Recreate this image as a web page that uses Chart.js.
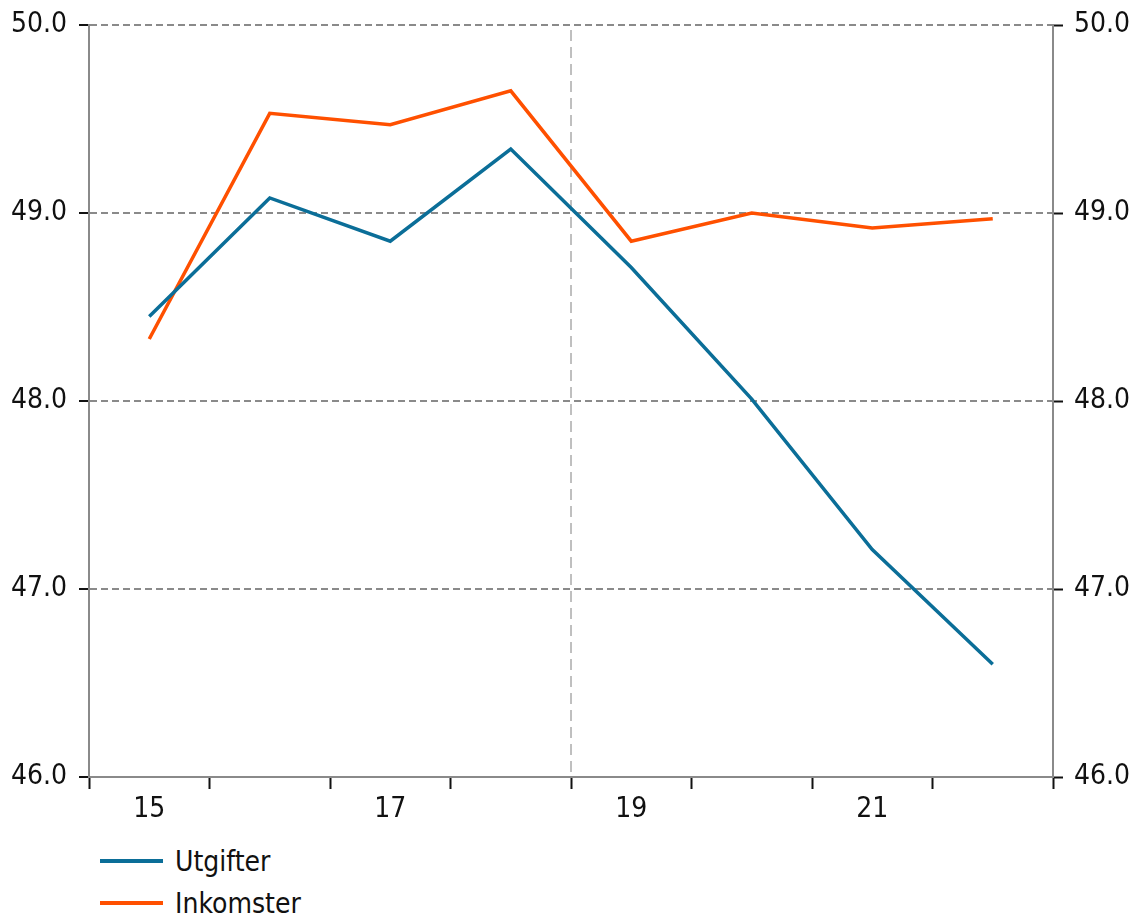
<!DOCTYPE html>
<html>
<head>
<meta charset="utf-8">
<script src="https://cdn.jsdelivr.net/npm/chart.js@4/dist/chart.umd.min.js"></script>
<style>
  body { margin: 0; background: #fff; }
  #wrap { position: relative; width: 1129px; height: 920px; }
  #chart { position: absolute; left: 0; top: 0; }
  #legend { position: absolute; left: 100px; top: 840px; font-family: 'Liberation Sans Narrow', 'DejaVu Sans Condensed', sans-serif; font-size: 28px; color: #111; }
  #legend div { display: flex; align-items: center; height: 42px; }
  #legend span.line { display: inline-block; width: 63px; height: 4px; margin-right: 12px; }
</style>
</head>
<body>
<div id="wrap">
  <canvas id="chart" width="1129" height="840"></canvas>
  <div id="legend"></div>
</div>
<script>
// Years (short form) on the x axis
var years = ['15', '16', '17', '18', '19', '20', '21', '22'];

// Values
var utgifter = [48.45, 49.08, 48.85, 49.34, 48.71, 48.01, 47.21, 46.60];
var inkomster = [48.33, 49.53, 49.47, 49.65, 48.85, 49.00, 48.92, 48.97];

var yMin = 46, yMax = 50, yStep = 1;

var FONT = "'Liberation Sans Narrow', 'DejaVu Sans Condensed', sans-serif";

// vertical dashed marker between 18 and 19
var splitLine = {
    id: 'splitLine',
    beforeDatasetsDraw: function(chart) {
        var x = chart.scales.x, area = chart.chartArea, ctx = chart.ctx;
        var px = (x.getPixelForValue(3) + x.getPixelForValue(4)) / 2;
        ctx.save();
        ctx.strokeStyle = '#808080';
        ctx.lineWidth = 1;
        ctx.setLineDash([11, 6]);
        ctx.beginPath();
        ctx.moveTo(px, area.top + 5);
        ctx.lineTo(px, area.bottom);
        ctx.stroke();
        ctx.restore();
    }
};

// fixed widths, and no extra room above the top tick label
function fixY(width) {
    return function(s) { s.width = width; s.paddingTop = 0; s.paddingBottom = 0; };
}

var ctx = document.getElementById('chart').getContext('2d');
var chart = new Chart(ctx, {
    type: 'line',
    data: {
        labels: years,
        datasets: [
            { label: 'Utgifter', data: utgifter, borderColor: '#0b6e98', borderWidth: 3.5, pointRadius: 0, tension: 0 },
            { label: 'Inkomster', data: inkomster, borderColor: '#ff5000', borderWidth: 3.5, pointRadius: 0, tension: 0 }
        ]
    },
    options: {
        responsive: false,
        animation: false,
        layout: { padding: { top: 25, left: 0, right: 0, bottom: 0 } },
        plugins: { legend: { display: false }, tooltip: { enabled: false } },
        scales: {
            x: {
                offset: true,
                grid: { offset: true, drawOnChartArea: false, tickLength: 12, tickColor: '#111', tickWidth: 2 },
                border: { color: '#8a8a8a', width: 2 },
                ticks: {
                    autoSkip: false, maxRotation: 0, padding: 4,
                    color: '#111', font: { family: FONT, size: 28 },
                    callback: function(v, i) { return i % 2 === 0 ? years[i] : ''; }
                },
                afterFit: function(s) { s.height = 63; }
            },
            y: {
                min: yMin, max: yMax,
                grid: { color: '#8a8a8a', lineWidth: 2, tickColor: '#111', tickLength: 10, tickWidth: 2 },
                border: { color: '#8a8a8a', width: 2, dash: [7, 4] },
                ticks: { stepSize: yStep, padding: 12, color: '#111', font: { family: FONT, size: 28 },
                    callback: function(v) { return v.toFixed(1); } },
                afterFit: fixY(89)
            },
            y2: {
                position: 'right',
                min: yMin, max: yMax,
                grid: { drawOnChartArea: false, tickColor: '#111', tickLength: 10, tickWidth: 2 },
                border: { color: '#8a8a8a', width: 2 },
                ticks: { stepSize: yStep, padding: 11, color: '#111', font: { family: FONT, size: 28 },
                    callback: function(v) { return v.toFixed(1); } },
                afterFit: fixY(76)
            }
        }
    },
    plugins: [splitLine]
});

// simple stacked legend under the chart
var legend = document.getElementById('legend');
chart.data.datasets.forEach(function(ds) {
    var row = document.createElement('div');
    row.innerHTML = '<span class="line" style="background:' + ds.borderColor + '"></span>' + ds.label;
    legend.appendChild(row);
});
</script>
</body>
</html>
